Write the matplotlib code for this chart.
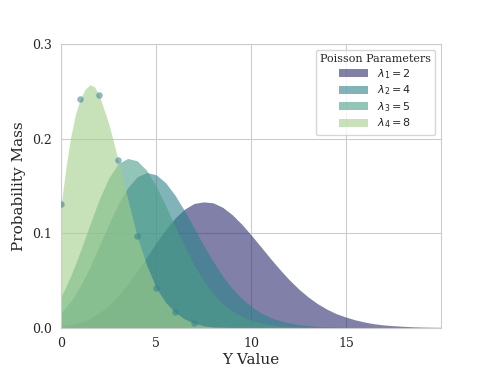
import numpy as np
import matplotlib
matplotlib.use("Agg")
import matplotlib.pyplot as plt
import seaborn as sns

sns.set_style("whitegrid")
plt.rcParams['font.family'] = 'DejaVu Serif'

# x grid shared by the three smoothed curves (step 0.5, 0..20)
y_grid = np.arange(0, 20.5, 0.5)

# smoothed pmf values
curve_1 = [0.0015, 0.0030, 0.0055, 0.0095, 0.0154, 0.0233, 0.0335, 0.0458, 0.0598, 0.0747,
           0.0897, 0.1038, 0.1160, 0.1254, 0.1314, 0.1330, 0.1320, 0.1273, 0.1195, 0.1095,
           0.0980, 0.0858, 0.0735, 0.0617, 0.0507, 0.0409, 0.0324, 0.0252, 0.0193, 0.0145,
           0.0110, 0.0080, 0.0057, 0.0039, 0.0027, 0.0019, 0.0013, 0.0008, 0.0005, 0.0003, 0.0002]
curve_2 = [0.0160, 0.0277, 0.0438, 0.0638, 0.0863, 0.1095, 0.1308, 0.1481, 0.1595, 0.1641,
           0.1617, 0.1532, 0.1398, 0.1233, 0.1051, 0.0869, 0.0698, 0.0545, 0.0414, 0.0307,
           0.0222, 0.0157, 0.0108, 0.0073, 0.0048, 0.0031, 0.0020, 0.0012, 0.0007, 0.0004,
           0.0002, 0.0001, 0, 0, 0, 0, 0, 0, 0, 0, 0]
curve_3 = [0.0330, 0.0548, 0.0805, 0.1086, 0.1357, 0.1583, 0.1736, 0.1790, 0.1765, 0.1663,
           0.1494, 0.1288, 0.1069, 0.0856, 0.0662, 0.0496, 0.0361, 0.0255, 0.0175, 0.0118,
           0.0077, 0.0049, 0.0030, 0.0018, 0.0011, 0.0006, 0.0003, 0.0002, 0.0001, 0,
           0, 0, 0, 0, 0, 0, 0, 0, 0, 0, 0]

# spline-like curve through the scatter points
x_4 = [0, 0.25, 0.5, 0.75, 1, 1.25, 1.5, 1.75, 2, 2.5, 3, 3.5, 4, 4.5, 5, 5.5, 6, 6.5, 7, 7.5, 8, 9, 10]
curve_4 = [0.131, 0.170, 0.202, 0.226, 0.242, 0.252, 0.257, 0.255, 0.246, 0.216, 0.177, 0.136,
           0.0965, 0.066, 0.042, 0.0265, 0.016, 0.009, 0.0046, 0.0018, 0.0005, 0, 0]

point_x = [0, 1, 2, 3, 4, 5, 6, 7]
point_y = [0.131, 0.242, 0.246, 0.177, 0.0965, 0.042, 0.016, 0.0046]

labels = [r'$\lambda_1 = 2$', r'$\lambda_2 = 4$', r'$\lambda_3 = 5$', r'$\lambda_4 = 8$']
colors = ['#2b2b6e', '#2b8289', '#4b9e89', '#a3d089']

fig, ax = plt.subplots(figsize=(4.9, 3.68), dpi=100)

series = [(y_grid, curve_1), (y_grid, curve_2), (y_grid, curve_3), (x_4, curve_4)]
for (xs, ys), lab, col in zip(series, labels, colors):
    ax.fill_between(xs, ys, 0, color=col, alpha=0.6, linewidth=0, label=lab)

ax.scatter(point_x, point_y, s=22, color='#3a7f95', alpha=0.55, linewidth=0, zorder=5)

ax.set_xlim(0, 20)
ax.set_ylim(0, 0.3)
ax.set_xticks([0, 5, 10, 15])
ax.set_yticks([0.0, 0.1, 0.2, 0.3])
ax.tick_params(labelsize=9)
ax.set_xlabel('Y Value', fontsize=11, labelpad=2)
ax.set_ylabel('Probability Mass', fontsize=11)

leg = ax.legend(title='Poisson Parameters', loc='upper right', fontsize=8, title_fontsize=8,
                labelspacing=0.25, handlelength=2.6)

fig.savefig('out.png', dpi=100)
